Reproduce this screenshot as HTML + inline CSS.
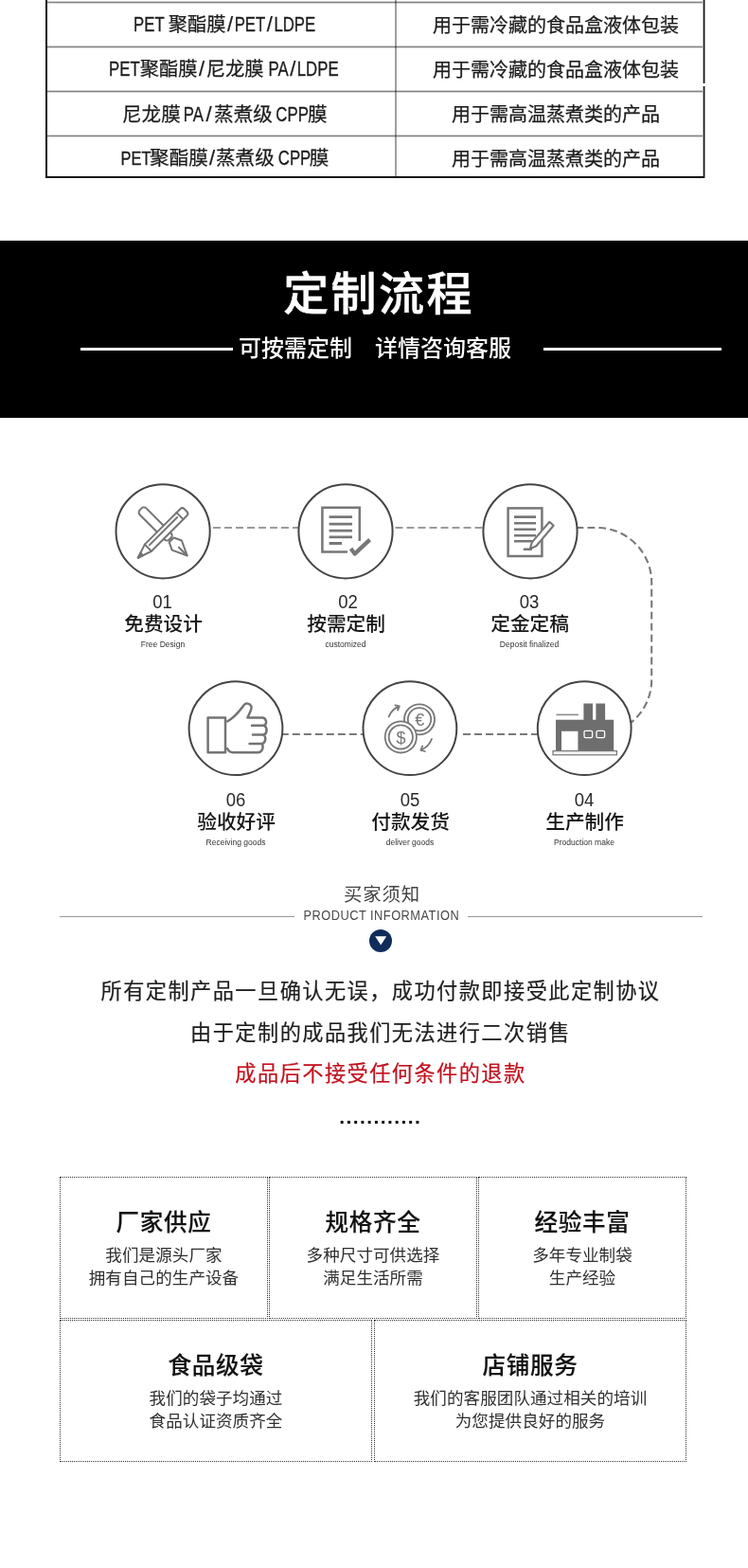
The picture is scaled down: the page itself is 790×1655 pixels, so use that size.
<!DOCTYPE html>
<html lang="zh-CN">
<head>
<meta charset="utf-8">
<title>定制流程</title>
<style>
html,body{margin:0;padding:0;background:#fff;}
body{width:790px;height:1655px;position:relative;overflow:hidden;
  font-family:"Liberation Sans","Noto Sans CJK SC",sans-serif;color:#1a1a1a;}
#wrap{position:absolute;left:0;top:0;width:790px;height:1655px;overflow:hidden;will-change:transform;}
.abs{position:absolute;}
.t{position:absolute;white-space:nowrap;text-align:center;line-height:1;}
/* table */
.hl{position:absolute;left:50px;width:692px;height:1px;background:#848484;box-shadow:0 -1px 0 #d2d2d2,0 1px 0 #d2d2d2;}
.cell{position:absolute;white-space:nowrap;text-align:left;font-size:20.3px;line-height:24px;height:24px;color:#1c1c1c;-webkit-text-stroke:0.25px #1c1c1c;}
.la{display:inline-block;line-height:1;font-size:var(--lf,16.8px);transform:scaleY(1.27);transform-origin:0 84.6%;}
.sl{display:inline-block;line-height:1;font-size:22px;margin:0 1.5px;}
/* banner */
#banner{position:absolute;left:0;top:254px;width:790px;height:187px;background:#000;}
/* steps */
.num{font-size:18.5px;color:#2a2a2a;width:100px;transform:scaleY(1.125);transform-origin:50% 84.6%;}
.nm{font-size:20.7px;font-weight:500;color:#161616;width:120px;margin-top:1.3px;margin-left:0.6px;}
.en{font-size:8.5px;color:#333;width:120px;margin-top:0.5px;}
/* notice */
.p{font-size:22.2px;letter-spacing:1.45px;color:#1e1e1e;left:7px;width:790px;-webkit-text-stroke:0.2px currentColor;}
/* boxes */
.box{position:absolute;box-sizing:border-box;border:1px dotted #333;}
.bt{font-size:24.6px;font-weight:500;letter-spacing:0.6px;color:#111;margin-top:0.5px;margin-left:0px;-webkit-text-stroke:0.15px #111;}
.bs{font-size:17.55px;letter-spacing:0.08px;color:#303030;margin-top:1px;}
</style>
</head>
<body>
<div id="wrap">

<!-- ===== table ===== -->
<div class="abs" style="left:48px;top:0;width:2px;height:188px;background:#111;"></div>
<div class="abs" style="left:743px;top:0;width:1px;height:188px;background:#111;box-shadow:-1px 0 0 #b4b4b4,1px 0 0 #9a9a9a;"></div>
<div class="abs" style="left:741px;top:88px;width:5px;height:3px;background:#fff;"></div>
<div class="abs" style="left:48px;top:186px;width:696px;height:2px;background:#111;"></div>
<div class="hl" style="top:2px;"></div>
<div class="hl" style="top:49px;"></div>
<div class="hl" style="top:96px;"></div>
<div class="hl" style="top:143px;"></div>
<div class="abs" style="left:417px;top:0;width:2px;height:186px;background:#a0a0a0;mix-blend-mode:multiply;"></div>

<div class="cell" style="left:141px;top:14px;"><span class="la">PET</span> <span class="g" style="margin-left:-1.64px">聚酯膜</span><span class="sl">/</span><span class="la">PET</span><span class="sl">/</span><span class="la">LDPE</span></div>
<div class="cell" style="left:457px;top:15px;font-size:20px;">用于需冷藏的食品盒液体包装</div>
<div class="cell" style="left:115px;top:61px;"><span class="la">PET</span><span class="g">聚酯膜</span><span class="sl">/</span><span class="g">尼龙膜</span> <span class="la" style="margin-left:-0.64px">PA</span><span class="sl">/</span><span class="la">LDPE</span></div>
<div class="cell" style="left:457px;top:62px;font-size:20px;">用于需冷藏的食品盒液体包装</div>
<div class="cell" style="left:129px;top:109px;font-size:20.6px;"><span class="g">尼龙膜</span> <span class="la" style="margin-left:-2.73px">PA</span><span class="sl" style="margin:0 2.5px">/</span><span class="g">蒸煮级</span> <span class="la" style="margin-left:-2.23px;--lf:16.8px">CPP</span><span class="g" style="margin-left:-1px">膜</span></div>
<div class="cell" style="left:477px;top:109px;font-size:20px;">用于需高温蒸煮类的产品</div>
<div class="cell" style="left:127.5px;top:155px;font-size:20.6px;--lf:16.5px"><span class="la">PET</span><span class="g" style="margin-left:-1.5px">聚酯膜</span><span class="sl" style="margin:0 1px">/</span><span class="g">蒸煮级</span> <span class="la" style="margin-left:-1.73px;--lf:16.8px">CPP</span><span class="g" style="margin-left:-1.5px">膜</span></div>
<div class="cell" style="left:477px;top:156px;font-size:20px;">用于需高温蒸煮类的产品</div>

<!-- ===== banner ===== -->
<div id="banner">
  <div class="t" style="left:5px;width:790px;top:33px;font-size:48px;letter-spacing:2.4px;font-weight:500;color:#fff;-webkit-text-stroke:0.5px #fff;">定制流程</div>
  <div class="abs" style="left:85px;top:113px;width:161px;height:3px;background:#fff;"></div>
  <div class="abs" style="left:574px;top:113px;width:188px;height:3px;background:#fff;"></div>
  <div class="t" style="left:1px;width:790px;top:102px;font-size:24px;font-weight:500;color:#fff;">可按需定制　详情咨询客服</div>
</div>

<!-- ===== flow ===== -->
<svg class="abs" style="left:0;top:490px;" width="790" height="340" viewBox="0 490 790 340" fill="none">
  <!-- connectors -->
  <g stroke="#7a7a7a" stroke-width="1.7" stroke-dasharray="8 4">
    <path d="M225 557H318"/>
    <path d="M417.5 557H512"/>
    <path d="M608.5 557H630.4A57.8 57.8 0 0 1 688.2 614.8V717.5A57.8 57.8 0 0 1 630.4 775.3" stroke-dasharray="7.8 4.16" stroke-width="2.1"/>
    <path d="M296.8 775H385" stroke-width="2.2"/>
    <path d="M489 775H570" stroke-width="2.2"/>
  </g>
  <!-- circles -->
  <g stroke="#454545" stroke-width="2" fill="#fff">
    <circle cx="172.1" cy="560.8" r="49.6"/>
    <circle cx="365" cy="560.8" r="49.6"/>
    <circle cx="560" cy="560.8" r="49.6"/>
    <circle cx="249" cy="768.7" r="49.4"/>
    <circle cx="432.9" cy="768.7" r="49.4"/>
    <circle cx="617.2" cy="768.7" r="49.4"/>
  </g>

  <!-- icon 1: pen + pencil -->
  <g stroke="#747474" stroke-width="2" stroke-linejoin="round" stroke-linecap="round">
    <g transform="translate(148.6,537.4) rotate(45)">
      <rect x="0" y="-4.8" width="44" height="9.6" rx="3.4" fill="#fff"/>
      <path d="M46 -3.4L54 -7.2L69.5 0L54 7.2L46 3.4Z" fill="#fff"/>
      <path d="M69 0H58.5"/>
      <circle cx="57" cy="0" r="1.1" fill="#747474" stroke="none"/>
    </g>
    <g transform="translate(196,538.6) rotate(135)">
      <path d="M3 -5H56L71 0L56 5H3A3 3 0 0 1 0 2V-2A3 3 0 0 1 3 -5Z" fill="#fff"/>
      <path d="M8.5 -5V5M56 -5V5M11.5 1H53"/>
      <path d="M65.5 -1.9L71 0L65.5 1.9Z" fill="#747474"/>
    </g>
  </g>

  <!-- icon 2: document + check -->
  <g stroke="#777" stroke-linejoin="miter">
    <path d="M379.8 571V535.8H340.4V582.6H367" stroke-width="2.5"/>
    <path d="M347.6 545.6H372M347.6 553.1H372M347.6 560.2H372M347.6 566.8H372M347.6 573.5H361" stroke-width="2.8"/>
    <path d="M370.6 579L374.6 584.6L390.6 569.6" stroke-width="4.2" stroke-linejoin="round"/>
  </g>

  <!-- icon 3: document + pen -->
  <g stroke="#777">
    <rect x="536.6" y="536.4" width="35.8" height="50.6" stroke-width="2.5"/>
    <path d="M543 545.6H566M543 552.3H566M543 558.7H566M543 565.2H566M543 571.3H566" stroke-width="2.6"/>
    <path d="M580.4 550.8L584.6 554.8L566.4 576.2L559.8 579.2L561.8 572.4Z" fill="#fff" stroke-width="2.1" stroke-linejoin="round"/>
    <path d="M553.8 579.8H561" stroke-width="2.4" stroke-linecap="round"/>
  </g>

  <!-- icon 6: thumbs up -->
  <g stroke="#747474" stroke-width="2.5" stroke-linejoin="round" stroke-linecap="round">
    <rect x="219.6" y="757.6" width="18.4" height="36.6"/>
    <path d="M240 761.5C247 757.5 253.5 750 257.6 744.2C259.6 741.6 264 742.2 265.4 745.4C266.4 748 263.6 753.2 261.4 757.4H277C281.6 757.4 282.4 764.4 278.6 765.8C282.6 767.2 282.6 774.4 278.4 775.6C281.6 777.6 280.6 784 276.6 785C278.6 788 277.4 793.8 272.6 794.2H246C243 794.2 241 792 240 790"/>
    <path d="M266 765.8H278.6M267 775.6H278.4M263.6 785H276.6"/>
  </g>

  <!-- icon 5: coins -->
  <g stroke="#777" stroke-width="1.8" stroke-linecap="round" stroke-linejoin="round">
    <circle cx="443" cy="759.3" r="16" fill="#fff"/>
    <circle cx="443" cy="759.3" r="12.2"/>
    <circle cx="423.3" cy="777.9" r="16.6" fill="#fff"/>
    <circle cx="423.3" cy="777.9" r="12.6"/>
    <path d="M410.6 756.4C412.6 751.4 416 747.6 421.4 745.6M417.4 744.4L421.8 745.4L420 749.6"/>
    <path d="M456 780C454 785.4 450.2 789.4 444.6 791.6M448.8 793L444.4 791.8L446.2 787.4"/>
  </g>
  <text x="443.2" y="766.2" font-family="Liberation Sans, sans-serif" font-size="18" fill="#777" text-anchor="middle">€</text>
  <text x="423.4" y="784.6" font-family="Liberation Sans, sans-serif" font-size="18" fill="#777" text-anchor="middle">$</text>

  <!-- icon 4: factory -->
  <g>
    <rect x="587" y="759.7" width="61.2" height="33" fill="#6e6e6e"/>
    <rect x="616.4" y="742.5" width="9.6" height="18" fill="#6e6e6e"/>
    <rect x="629.4" y="742.5" width="9.7" height="18" fill="#6e6e6e"/>
    <rect x="593" y="771.8" width="17.4" height="20.4" fill="#fff"/>
    <rect x="587.5" y="753.6" width="23.4" height="1.6" fill="#8a8a8a"/>
    <rect x="584" y="792.6" width="67.4" height="4.2" fill="#f2f2f2" stroke="#777" stroke-width="1.2"/>
    <rect x="617" y="771.4" width="8.6" height="7.2" rx="1.4" stroke="#fff" stroke-width="1.3"/>
    <rect x="630" y="771.4" width="8.6" height="7.2" rx="1.4" stroke="#fff" stroke-width="1.3"/>
  </g>
</svg>

<div class="t num" style="left:121.5px;top:627px;">01</div>
<div class="t nm"  style="left:112px;top:648px;">免费设计</div>
<div class="t en"  style="left:112px;top:675px;">Free Design</div>

<div class="t num" style="left:317.5px;top:627px;">02</div>
<div class="t nm"  style="left:305px;top:648px;">按需定制</div>
<div class="t en"  style="left:305px;top:675px;">customized</div>

<div class="t num" style="left:509px;top:627px;">03</div>
<div class="t nm"  style="left:499px;top:648px;">定金定稿</div>
<div class="t en"  style="left:499px;top:675px;">Deposit finalized</div>

<div class="t num" style="left:199px;top:836px;">06</div>
<div class="t nm"  style="left:189px;top:857px;">验收好评</div>
<div class="t en"  style="left:189px;top:884px;">Receiving goods</div>

<div class="t num" style="left:383px;top:836px;">05</div>
<div class="t nm"  style="left:373px;top:857px;">付款发货</div>
<div class="t en"  style="left:373px;top:884px;">deliver goods</div>

<div class="t num" style="left:567px;top:836px;">04</div>
<div class="t nm"  style="left:557px;top:857px;">生产制作</div>
<div class="t en"  style="left:557px;top:884px;">Production make</div>

<!-- ===== notice ===== -->
<div class="t" style="left:8.5px;width:790px;top:935px;font-size:19.4px;letter-spacing:0.9px;font-weight:400;color:#444;">买家须知</div>
<div class="abs" style="left:63px;top:967px;width:248px;height:1px;background:#999;"></div>
<div class="abs" style="left:494px;top:967px;width:248px;height:1px;background:#999;"></div>
<div class="t" style="left:7.8px;width:790px;top:960.5px;font-size:12.8px;letter-spacing:0.5px;color:#4a4a4a;transform:scaleY(1.09);transform-origin:50% 84.6%;">PRODUCT INFORMATION</div>
<svg class="abs" style="left:390px;top:981px;" width="24" height="24" viewBox="0 0 24 24">
  <circle cx="12" cy="12" r="12" fill="#0f2c5a"/>
  <path d="M6.2 7.2H18.2L12.2 16.6Z" fill="#fff"/>
</svg>

<div class="t p" style="top:1036px;">所有定制产品一旦确认无误，成功付款即接受此定制协议</div>
<div class="t p" style="top:1080.3px;">由于定制的成品我们无法进行二次销售</div>
<div class="t p" style="top:1123.3px;color:#c2121f;">成品后不接受任何条件的退款</div>
<div class="t" style="left:6.8px;width:790px;top:1168px;font-size:21px;letter-spacing:1.41px;font-weight:700;color:#111;">............</div>

<!-- ===== boxes ===== -->
<div class="box" style="left:63px;top:1242px;width:220px;height:150px;"></div>
<div class="box" style="left:284px;top:1242px;width:220px;height:150px;"></div>
<div class="box" style="left:505px;top:1242px;width:220px;height:150px;"></div>
<div class="box" style="left:63px;top:1393px;width:330px;height:150px;"></div>
<div class="box" style="left:395px;top:1393px;width:330px;height:150px;"></div>

<div class="t bt" style="left:63px;width:220px;top:1278px;">厂家供应</div>
<div class="t bs" style="left:63px;width:220px;top:1316px;">我们是源头厂家</div>
<div class="t bs" style="left:63px;width:220px;top:1340px;">拥有自己的生产设备</div>

<div class="t bt" style="left:284px;width:220px;top:1278px;">规格齐全</div>
<div class="t bs" style="left:284px;width:220px;top:1316px;">多种尺寸可供选择</div>
<div class="t bs" style="left:284px;width:220px;top:1340px;">满足生活所需</div>

<div class="t bt" style="left:505px;width:220px;top:1278px;">经验丰富</div>
<div class="t bs" style="left:505px;width:220px;top:1316px;">多年专业制袋</div>
<div class="t bs" style="left:505px;width:220px;top:1340px;">生产经验</div>

<div class="t bt" style="left:63px;width:330px;top:1429px;">食品级袋</div>
<div class="t bs" style="left:63px;width:330px;top:1467px;">我们的袋子均通过</div>
<div class="t bs" style="left:63px;width:330px;top:1491px;">食品认证资质齐全</div>

<div class="t bt" style="left:395px;width:330px;top:1429px;">店铺服务</div>
<div class="t bs" style="left:395px;width:330px;top:1467px;">我们的客服团队通过相关的培训</div>
<div class="t bs" style="left:395px;width:330px;top:1491px;">为您提供良好的服务</div>

</div>
</body>
</html>
